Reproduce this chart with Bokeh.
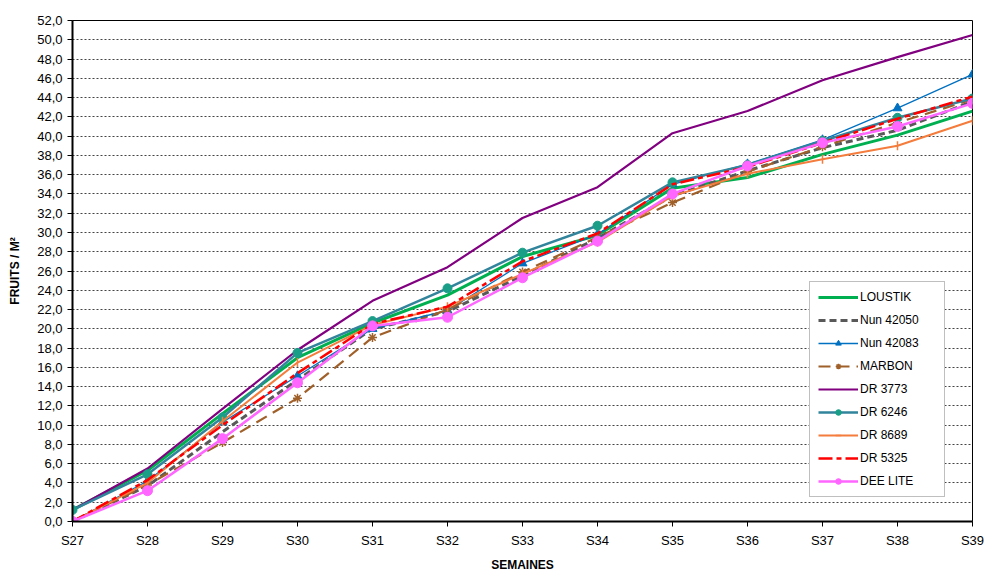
from bokeh.plotting import figure
from bokeh.models import Range1d, FixedTicker, CustomJSTickFormatter, Legend, LegendItem
from bokeh.embed import file_html
from bokeh.resources import INLINE

weeks = ["S27", "S28", "S29", "S30", "S31", "S32", "S33", "S34", "S35", "S36", "S37", "S38", "S39"]

loustik = [1.2, 5.3, 11.2, 17.0, 20.6, 23.5, 27.5, 29.7, 34.6, 35.7, 38.1, 40.1, 42.6]
nun_42050 = [0.0, 3.7, 9.3, 14.7, 20.0, 21.8, 25.5, 29.4, 33.8, 36.4, 38.8, 40.6, 43.6]
nun_42083 = [0.0, 4.2, 10.3, 15.1, 20.0, 21.9, 26.8, 29.8, 35.0, 37.1, 39.6, 42.9, 46.4]
marbon = [0.0, 3.8, 8.2, 12.8, 19.1, 22.0, 25.9, 29.5, 33.1, 36.3, 38.9, 41.4, 43.8]
dr_3773 = [1.2, 5.5, 11.7, 17.8, 22.9, 26.4, 31.5, 34.7, 40.3, 42.6, 45.8, 48.2, 50.5]
dr_6246 = [1.2, 4.9, 10.8, 17.5, 20.8, 24.2, 27.9, 30.7, 35.2, 37.0, 39.5, 41.9, 43.9]
dr_8689 = [0.0, 4.0, 10.4, 16.5, 20.4, 22.3, 25.7, 29.0, 33.8, 36.1, 37.6, 39.0, 41.6]
dr_5325 = [0.0, 4.3, 10.0, 15.4, 20.5, 22.3, 27.0, 29.9, 35.0, 36.8, 39.3, 41.8, 44.1]
dee_lite = [0.0, 3.2, 8.6, 14.4, 20.3, 21.2, 25.3, 29.1, 34.0, 36.9, 39.3, 41.0, 43.4]

x = list(range(len(weeks)))
FONT = "Liberation Sans"

p = figure(width=984, height=574, output_backend="svg", toolbar_location=None,
           x_range=Range1d(0, 12), y_range=Range1d(0, 52),
           min_border_left=72, min_border_top=20, min_border_right=12, min_border_bottom=53)

p.outline_line_color = "#000000"
p.outline_line_width = 1
p.xgrid.grid_line_color = None
p.ygrid.grid_line_color = "#444444"
p.ygrid.grid_line_dash = "2 2"
p.ygrid.grid_line_width = 1
p.ygrid.ticker = FixedTicker(ticks=list(range(0, 53, 2)))

p.xaxis.ticker = FixedTicker(ticks=x)
p.xaxis.major_label_overrides = {i: w for i, w in zip(x, weeks)}
p.yaxis.ticker = FixedTicker(ticks=list(range(0, 53, 2)))
p.yaxis.formatter = CustomJSTickFormatter(code="return tick.toFixed(1).replace('.', ',');")

for ax in (p.xaxis[0], p.yaxis[0]):
    ax.axis_line_color = "#000000"
    ax.axis_line_width = 2
    ax.major_tick_line_color = "#000000"
    ax.major_tick_in = 0
    ax.major_tick_out = 5
    ax.minor_tick_line_color = None
    ax.major_label_text_font = FONT
    ax.major_label_text_font_size = "13px"
    ax.major_label_text_color = "#000000"
    ax.axis_label_text_font = FONT
    ax.axis_label_text_font_size = "12px"
    ax.axis_label_text_font_style = "bold"
    ax.axis_label_text_color = "#000000"

p.xaxis.axis_label = "SEMAINES"
p.xaxis.major_label_standoff = 6
p.xaxis.axis_label_standoff = 7
p.yaxis.axis_label = "FRUITS / M²"
p.yaxis.major_label_standoff = 5
p.yaxis.axis_label_standoff = 12

items = []

r = p.line(x, loustik, line_color="#00B050", line_width=3)
items.append(LegendItem(label="LOUSTIK", renderers=[r]))

r = p.line(x, nun_42050, line_color="#595959", line_width=3, line_dash="7 4")
items.append(LegendItem(label="Nun 42050", renderers=[r]))

r1 = p.line(x, nun_42083, line_color="#0070C0", line_width=1.3)
r2 = p.scatter(x, nun_42083, marker="triangle", size=9, fill_color="#0070C0", line_color="#0070C0")
items.append(LegendItem(label="Nun 42083", renderers=[r1, r2]))

r1 = p.line(x, marbon, line_color="#A0602A", line_width=2.2, line_dash="12 7")
r2 = p.scatter(x, marbon, marker="asterisk", size=9, line_color="#A0602A", line_width=1.5)
items.append(LegendItem(label="MARBON", renderers=[r1, r2]))

r = p.line(x, dr_3773, line_color="#800080", line_width=2.2)
items.append(LegendItem(label="DR 3773", renderers=[r]))

r1 = p.line(x, dr_6246, line_color="#31849B", line_width=2.5)
r2 = p.scatter(x, dr_6246, marker="circle", size=9, fill_color="#1A9E88", line_color="#1A9E88")
items.append(LegendItem(label="DR 6246", renderers=[r1, r2]))

r1 = p.line(x, dr_8689, line_color="#F47C3C", line_width=2)
r2 = p.scatter(x, dr_8689, marker="dash", angle=1.5708, size=9, line_color="#F47C3C", line_width=1.5)
items.append(LegendItem(label="DR 8689", renderers=[r1, r2]))

r = p.line(x, dr_5325, line_color="#FF0000", line_width=2.5, line_dash="14 4 5 4")
items.append(LegendItem(label="DR 5325", renderers=[r]))

r1 = p.line(x, dee_lite, line_color="#FF66FF", line_width=2.5)
r2 = p.scatter(x, dee_lite, marker="circle", size=10, fill_color="#FF66FF", line_color="#FF66FF")
items.append(LegendItem(label="DEE LITE", renderers=[r1, r2]))

legend = Legend(items=items, location=(737, 24))
legend.border_line_color = "#808080"
legend.border_line_width = 1
legend.background_fill_color = "#FFFFFF"
legend.background_fill_alpha = 1
legend.padding = 8
legend.margin = 0
legend.spacing = 9
legend.label_height = 14
legend.glyph_height = 14
legend.glyph_width = 40
legend.label_standoff = 2
legend.label_text_font = FONT
legend.label_text_font_size = "12px"
legend.label_text_color = "#000000"
legend.label_width = 76
p.add_layout(legend, "center")

open("out.html", "w").write(file_html(p, INLINE))
